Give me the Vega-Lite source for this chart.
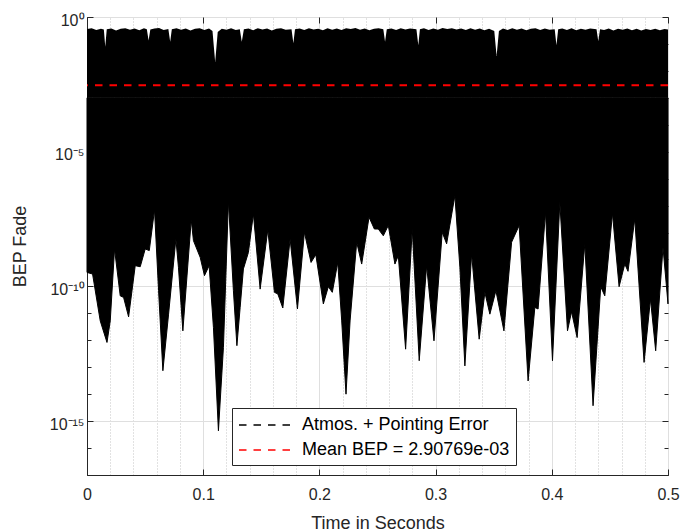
{
  "$schema": "https://vega.github.io/schema/vega-lite/v6.json",
  "width": 581,
  "height": 458,
  "autosize": {"type": "none"},
  "padding": {"left": 87, "top": 17, "right": 13, "bottom": 57},
  "background": "white",
  "datasets": {
    "lo": [
      {"t":0,"bep":3.31e-10},{"t":0.0048,"bep":2.88e-10},{"t":0.0114,"bep":5.25e-12},{"t":0.0172,"bep":8.32e-13},{"t":0.02,"bep":5.25e-12},{"t":0.0237,"bep":2.45e-9},{"t":0.0286,"bep":4.47e-11},{"t":0.0315,"bep":3.89e-11},{"t":0.0358,"bep":7.41e-12},{"t":0.0415,"bep":5.89e-10},{"t":0.0458,"bep":5.37e-10},{"t":0.0501,"bep":2.45e-9},{"t":0.0536,"bep":2.14e-9},{"t":0.0581,"bep":6.92e-8},{"t":0.0616,"bep":6.92e-11},{"t":0.0653,"bep":7.41e-14},{"t":0.0702,"bep":9.33e-12},{"t":0.0765,"bep":5.75e-9},{"t":0.0787,"bep":5.13e-10},{"t":0.0825,"bep":2.24e-12},{"t":0.0897,"bep":2.95e-8},{"t":0.0916,"bep":5.01e-9},{"t":0.0974,"bep":1.2e-9},{"t":0.1011,"bep":2.51e-10},{"t":0.1051,"bep":5.89e-10},{"t":0.1088,"bep":3.02e-12},{"t":0.1131,"bep":4.37e-16},{"t":0.1174,"bep":5.37e-13},{"t":0.1217,"bep":1.45e-7},{"t":0.126,"bep":6.92e-11},{"t":0.129,"bep":6.31e-13},{"t":0.1318,"bep":1.66e-11},{"t":0.1346,"bep":4.47e-10},{"t":0.1389,"bep":1.82e-9},{"t":0.1432,"bep":4.9e-8},{"t":0.149,"bep":7.94e-11},{"t":0.1556,"bep":1.26e-8},{"t":0.1613,"bep":6.03e-11},{"t":0.1642,"bep":5.25e-11},{"t":0.1685,"bep":1.58e-11},{"t":0.1748,"bep":5.75e-9},{"t":0.1811,"bep":1.45e-11},{"t":0.1871,"bep":1.02e-8},{"t":0.1928,"bep":7.76e-10},{"t":0.1969,"bep":1.51e-9},{"t":0.2034,"bep":2.24e-11},{"t":0.2077,"bep":9.77e-11},{"t":0.2111,"bep":6.03e-11},{"t":0.2158,"bep":7.76e-10},{"t":0.2192,"bep":5.25e-12},{"t":0.2229,"bep":1e-14},{"t":0.2264,"bep":5.25e-12},{"t":0.2321,"bep":4.37e-9},{"t":0.2364,"bep":6.76e-10},{"t":0.2427,"bep":3.72e-8},{"t":0.2473,"bep":1.35e-8},{"t":0.2507,"bep":1.35e-8},{"t":0.255,"bep":7.59e-9},{"t":0.2593,"bep":1.82e-8},{"t":0.265,"bep":6.76e-10},{"t":0.2679,"bep":1.38e-9},{"t":0.2742,"bep":4.68e-13},{"t":0.2799,"bep":1.35e-8},{"t":0.2859,"bep":1.74e-13},{"t":0.2923,"bep":5.89e-10},{"t":0.2986,"bep":9.55e-13},{"t":0.3057,"bep":1.02e-8},{"t":0.3095,"bep":3.8e-9},{"t":0.3166,"bep":2.34e-7},{"t":0.3209,"bep":5.13e-10},{"t":0.3252,"bep":1.12e-13},{"t":0.331,"bep":1.58e-9},{"t":0.3375,"bep":1.1e-12},{"t":0.3424,"bep":6.03e-11},{"t":0.3467,"bep":9.33e-12},{"t":0.3519,"bep":6.92e-11},{"t":0.3588,"bep":2.24e-12},{"t":0.3654,"bep":4.37e-9},{"t":0.3719,"bep":1.82e-8},{"t":0.3796,"bep":3.09e-14},{"t":0.3854,"bep":1.66e-11},{"t":0.3882,"bep":1.45e-11},{"t":0.3946,"bep":5.62e-8},{"t":0.4006,"bep":1.74e-13},{"t":0.4069,"bep":1.32e-7},{"t":0.4135,"bep":2.24e-12},{"t":0.417,"bep":1.15e-11},{"t":0.4218,"bep":1.26e-12},{"t":0.4284,"bep":3.8e-9},{"t":0.4355,"bep":3.72e-15},{"t":0.4421,"bep":9.77e-11},{"t":0.4456,"bep":4.47e-11},{"t":0.4522,"bep":5.13e-8},{"t":0.4579,"bep":9.77e-11},{"t":0.4628,"bep":6.76e-10},{"t":0.4656,"bep":3.63e-10},{"t":0.4714,"bep":3.24e-8},{"t":0.4794,"bep":1.51e-13},{"t":0.4849,"bep":3.39e-11},{"t":0.4894,"bep":4.07e-13},{"t":0.4957,"bep":2.82e-9},{"t":0.5,"bep":2.24e-11}
    ],
    "hi": [
      {"t":0,"bep":0.355},{"t":0.004,"bep":0.38},{"t":0.008,"bep":0.331},{"t":0.012,"bep":0.363},{"t":0.0145,"bep":0.34},{"t":0.0157,"bep":0.0794},{"t":0.017,"bep":0.35},{"t":0.021,"bep":0.372},{"t":0.025,"bep":0.316},{"t":0.029,"bep":0.363},{"t":0.033,"bep":0.38},{"t":0.037,"bep":0.339},{"t":0.041,"bep":0.372},{"t":0.045,"bep":0.324},{"t":0.049,"bep":0.38},{"t":0.0515,"bep":0.35},{"t":0.053,"bep":0.135},{"t":0.0545,"bep":0.34},{"t":0.058,"bep":0.372},{"t":0.062,"bep":0.389},{"t":0.066,"bep":0.331},{"t":0.07,"bep":0.36},{"t":0.0716,"bep":0.12},{"t":0.073,"bep":0.35},{"t":0.077,"bep":0.38},{"t":0.081,"bep":0.339},{"t":0.085,"bep":0.372},{"t":0.089,"bep":0.316},{"t":0.093,"bep":0.363},{"t":0.097,"bep":0.38},{"t":0.101,"bep":0.331},{"t":0.105,"bep":0.372},{"t":0.108,"bep":0.3},{"t":0.1103,"bep":0.0214},{"t":0.1125,"bep":0.28},{"t":0.116,"bep":0.363},{"t":0.12,"bep":0.339},{"t":0.124,"bep":0.38},{"t":0.128,"bep":0.331},{"t":0.1315,"bep":0.35},{"t":0.1332,"bep":0.12},{"t":0.135,"bep":0.35},{"t":0.139,"bep":0.372},{"t":0.143,"bep":0.324},{"t":0.147,"bep":0.38},{"t":0.151,"bep":0.347},{"t":0.155,"bep":0.372},{"t":0.159,"bep":0.316},{"t":0.163,"bep":0.363},{"t":0.167,"bep":0.38},{"t":0.171,"bep":0.339},{"t":0.176,"bep":0.35},{"t":0.1776,"bep":0.105},{"t":0.179,"bep":0.35},{"t":0.183,"bep":0.372},{"t":0.187,"bep":0.331},{"t":0.191,"bep":0.38},{"t":0.195,"bep":0.347},{"t":0.199,"bep":0.363},{"t":0.203,"bep":0.324},{"t":0.207,"bep":0.38},{"t":0.211,"bep":0.339},{"t":0.215,"bep":0.372},{"t":0.219,"bep":0.331},{"t":0.223,"bep":0.38},{"t":0.227,"bep":0.355},{"t":0.231,"bep":0.389},{"t":0.235,"bep":0.339},{"t":0.239,"bep":0.372},{"t":0.243,"bep":0.324},{"t":0.247,"bep":0.363},{"t":0.251,"bep":0.38},{"t":0.255,"bep":0.35},{"t":0.2565,"bep":0.12},{"t":0.258,"bep":0.35},{"t":0.262,"bep":0.372},{"t":0.266,"bep":0.331},{"t":0.27,"bep":0.38},{"t":0.274,"bep":0.347},{"t":0.278,"bep":0.372},{"t":0.2835,"bep":0.35},{"t":0.2851,"bep":0.0891},{"t":0.2865,"bep":0.35},{"t":0.29,"bep":0.38},{"t":0.294,"bep":0.331},{"t":0.298,"bep":0.372},{"t":0.302,"bep":0.339},{"t":0.306,"bep":0.389},{"t":0.31,"bep":0.355},{"t":0.314,"bep":0.38},{"t":0.318,"bep":0.347},{"t":0.322,"bep":0.372},{"t":0.326,"bep":0.331},{"t":0.33,"bep":0.38},{"t":0.334,"bep":0.339},{"t":0.338,"bep":0.372},{"t":0.342,"bep":0.324},{"t":0.346,"bep":0.363},{"t":0.3505,"bep":0.3},{"t":0.3525,"bep":0.0355},{"t":0.3545,"bep":0.3},{"t":0.358,"bep":0.372},{"t":0.362,"bep":0.331},{"t":0.366,"bep":0.38},{"t":0.37,"bep":0.339},{"t":0.374,"bep":0.372},{"t":0.378,"bep":0.324},{"t":0.382,"bep":0.363},{"t":0.386,"bep":0.38},{"t":0.39,"bep":0.331},{"t":0.394,"bep":0.372},{"t":0.398,"bep":0.339},{"t":0.4025,"bep":0.35},{"t":0.404,"bep":0.0891},{"t":0.4055,"bep":0.35},{"t":0.409,"bep":0.372},{"t":0.413,"bep":0.331},{"t":0.417,"bep":0.38},{"t":0.421,"bep":0.324},{"t":0.425,"bep":0.363},{"t":0.429,"bep":0.339},{"t":0.433,"bep":0.372},{"t":0.4385,"bep":0.35},{"t":0.44,"bep":0.126},{"t":0.4415,"bep":0.35},{"t":0.445,"bep":0.331},{"t":0.449,"bep":0.372},{"t":0.453,"bep":0.316},{"t":0.457,"bep":0.363},{"t":0.461,"bep":0.339},{"t":0.465,"bep":0.372},{"t":0.469,"bep":0.324},{"t":0.473,"bep":0.363},{"t":0.477,"bep":0.316},{"t":0.481,"bep":0.355},{"t":0.485,"bep":0.331},{"t":0.489,"bep":0.363},{"t":0.493,"bep":0.324},{"t":0.497,"bep":0.355},{"t":0.5,"bep":0.347}
    ],
    "mean": [{"series": "Mean BEP = 2.90769e-03", "bep": 0.00290769}]
  },
  "layer": [
    {
      "layer": [
        {
          "data": {"name": "hi"},
          "mark": {"type": "area", "fill": "black"},
          "encoding": {
            "x": {
              "field": "t", "type": "quantitative",
              "scale": {"domain": [0, 0.5], "nice": false, "zero": false},
              "axis": {
                "orient": "bottom",
                "values": [0, 0.1, 0.2, 0.3, 0.4, 0.5],
                "labelExpr": "datum.value == 0 ? '0' : format(datum.value, '.1f')",
                "labelFlush": false,
                "labelOverlap": false,
                "labelPadding": 17,
                "labelBaseline": "top",
                "grid": true,
                "gridColor": "#dfdfdf",
                "tickSize": -6,
                "title": "Time in Seconds",
                "titleX": 290.5,
                "titleY": 53.7,
                "titleAlign": "center",
                "titleBaseline": "alphabetic"
              }
            },
            "y": {
              "field": "bep", "type": "quantitative",
              "scale": {"type": "log", "domain": [1e-17, 1], "nice": false},
              "axis": {
                "orient": "left",
                "values": [1e-17,1e-16,1e-15,1e-14,1e-13,1e-12,1e-11,1e-10,1e-9,1e-8,1e-7,1e-6,1e-5,1e-4,1e-3,1e-2,1e-1,1],
                "labelExpr": "round(log(datum.value)/LN10) == 0 ? '10⁰' : round(log(datum.value)/LN10) == -5 ? '10⁻⁵' : round(log(datum.value)/LN10) == -10 ? '10⁻¹⁰' : round(log(datum.value)/LN10) == -15 ? '10⁻¹⁵' : ''",
                "labelOverlap": false,
                "labelFlush": false,
                "labelPadding": 9,
                "labelOffset": 3,
                "grid": true,
                "gridColor": "#dfdfdf",
                "gridOpacity": {"condition": {"test": "round(log(datum.value)/LN10) % 5 == 0", "value": 1}, "value": 0},
                "tickSize": {"condition": {"test": "round(log(datum.value)/LN10) % 5 == 0", "value": -6}, "value": -4},
                "title": "BEP Fade",
                "titleX": -67,
                "titleY": 229,
                "titleAngle": -90,
                "titleAlign": "center",
                "titleBaseline": "middle"
              }
            },
            "y2": {"datum": 0.001}
          }
        },
        {
          "data": {"name": "lo"},
          "mark": {"type": "area", "fill": "black", "strokeWidth": 1},
          "encoding": {
            "x": {"field": "t", "type": "quantitative"},
            "y": {"field": "bep", "type": "quantitative"},
            "y2": {"datum": 0.001},
            "stroke": {
              "datum": "Atmos. + Pointing Error",
              "type": "nominal",
              "title": null,
              "scale": {"domain": ["Atmos. + Pointing Error", "Mean BEP = 2.90769e-03"], "range": ["#000000", "#ff0000"]},
              "legend": {
                "orient": "none",
                "legendX": 145,
                "legendY": 391,
                "title": null,
                "symbolType": "M-1,0H4.5",
                "symbolSize": 400,
                "symbolStrokeWidth": 1.5,
                "symbolDash": [7.5, 7],
                "labelOffset": 42,
                "labelFontSize": 18,
                "labelLimit": 400,
                "labelFont": "Liberation Sans",
                "labelColor": "#000000",
                "rowPadding": 5,
                "padding": 6,
                "strokeColor": "#262626",
                "fillColor": "white"
              }
            }
          }
        },
        {
          "data": {"name": "mean"},
          "mark": {"type": "rule", "strokeDash": [7.5, 7], "strokeWidth": 2},
          "encoding": {
            "y": {"field": "bep", "type": "quantitative"},
            "stroke": {
              "field": "series",
              "type": "nominal",
              "title": null,
              "legend": {
                "orient": "none",
                "legendX": 145,
                "legendY": 391,
                "title": null,
                "symbolType": "M-1,0H4.5",
                "symbolSize": 400,
                "symbolStrokeWidth": 1.5,
                "symbolDash": [7.5, 7],
                "labelOffset": 42,
                "labelFontSize": 18,
                "labelLimit": 400,
                "labelFont": "Liberation Sans",
                "labelColor": "#000000",
                "rowPadding": 5,
                "padding": 6,
                "strokeColor": "#262626",
                "fillColor": "white"
              }
            }
          }
        }
      ]
    },
    {
      "data": {"name": "mean"},
      "mark": {"type": "point", "opacity": 0},
      "encoding": {
        "x": {
          "datum": 0.25, "type": "quantitative",
          "scale": {"domain": [0, 0.5], "nice": false, "zero": false},
          "axis": {
            "orient": "top",
            "values": [0,0.02,0.04,0.06,0.08,0.1,0.12,0.14,0.16,0.18,0.2,0.22,0.24,0.26,0.28,0.3,0.32,0.34,0.36,0.38,0.4,0.42,0.44,0.46,0.48,0.5],
            "labels": false, "domain": false, "title": null,
            "grid": true,
            "gridColor": "#c4c4c4",
            "gridDash": [1, 2],
            "gridOpacity": {"condition": {"test": "abs(datum.value*10 - round(datum.value*10)) < 0.001", "value": 0}, "value": 1},
            "tickOpacity": {"condition": {"test": "abs(datum.value*10 - round(datum.value*10)) < 0.001", "value": 1}, "value": 0},
            "tickSize": -6
          }
        },
        "y": {
          "field": "bep", "type": "quantitative",
          "scale": {"type": "log", "domain": [1e-17, 1], "nice": false},
          "axis": {
            "orient": "right",
            "values": [1e-17,1e-16,1e-15,1e-14,1e-13,1e-12,1e-11,1e-10,1e-9,1e-8,1e-7,1e-6,1e-5,1e-4,1e-3,1e-2,1e-1,1],
            "labels": false, "domain": false, "grid": false, "title": null,
            "tickSize": {"condition": {"test": "round(log(datum.value)/LN10) % 5 == 0", "value": -6}, "value": -4}
          }
        }
      }
    }
  ],
  "resolve": {"scale": {"x": "independent", "y": "independent"}},
  "config": {
    "font": "Liberation Sans",
    "view": {"stroke": "#262626", "strokeWidth": 1},
    "axis": {
      "domainColor": "#262626",
      "domainWidth": 1,
      "tickColor": "#262626",
      "tickWidth": 1,
      "labelColor": "#262626",
      "titleColor": "#262626",
      "labelFont": "Liberation Sans",
      "titleFont": "Liberation Sans",
      "labelFontSize": 16,
      "titleFontSize": 18,
      "titleFontWeight": "normal"
    }
  }
}
